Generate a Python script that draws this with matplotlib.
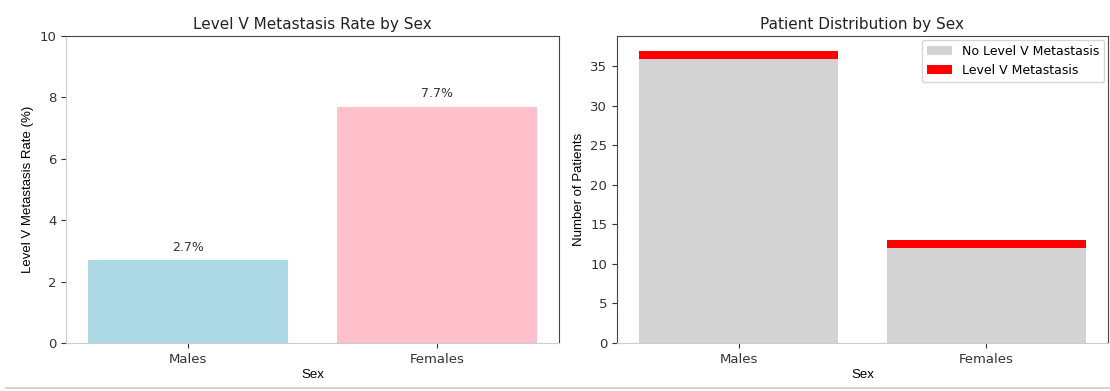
import matplotlib
matplotlib.use("Agg")
import matplotlib.pyplot as plt
from matplotlib.lines import Line2D

# Data
sexes = ["Males", "Females"]
no_meta = [36, 12]
meta = [1, 1]
rates = [2.7, 7.7]
rate_labels = ["2.7%", "7.7%"]
rate_colors = ["lightblue", "pink"]

plt.rcParams["font.family"] = ["DejaVu Sans"]

fig = plt.figure(figsize=(11.10, 3.91), dpi=100)
ax1 = fig.add_axes([66 / 1110, 48 / 391, 493 / 1110, 307 / 391])
ax2 = fig.add_axes([617 / 1110, 48 / 391, 491 / 1110, 307 / 391])

label_font = dict(family=["Liberation Sans Narrow", "Liberation Sans", "DejaVu Sans"], fontsize=9.5)

# Left: rate by sex
x = list(range(len(sexes)))
ax1.bar(x, rates, color=rate_colors, width=0.8)
for xi, r, lab in zip(x, rates, rate_labels):
    ax1.text(xi, r + 0.2, lab, ha="center", va="bottom", fontsize=9, color="#333333")
ax1.set_ylim(0, 10)
ax1.set_xticks(x)
ax1.set_xticklabels(sexes)
ax1.set_title("Level V Metastasis Rate by Sex", fontsize=11, pad=5, color="#222222")
ax1.set_xlabel("Sex", labelpad=2, **label_font)
ax1.set_ylabel("Level V Metastasis Rate (%)", **label_font)

# Right: stacked patient counts
ax2.bar(x, no_meta, color="lightgray", width=0.8, label="No Level V Metastasis")
ax2.bar(x, meta, bottom=no_meta, color="red", width=0.8, label="Level V Metastasis")
ax2.set_xticks(x)
ax2.set_xticklabels(sexes)
ax2.set_title("Patient Distribution by Sex", fontsize=11, pad=5, color="#222222")
ax2.set_xlabel("Sex", labelpad=2, **label_font)
ax2.set_ylabel("Number of Patients", **label_font)
ax2.legend(loc="upper right", fontsize=9, borderaxespad=0.3)

for ax in (ax1, ax2):
    ax.tick_params(labelsize=9.5, colors="#333333", length=3.5)
    ax.spines["bottom"].set_color("#cccccc")
    for s in ("top", "right"):
        ax.spines[s].set_color("#444444")
ax1.spines["left"].set_color("#cccccc")
ax2.spines["left"].set_color("#444444")

# thin separator along the bottom
fig.add_artist(Line2D([0.005, 1.0], [3 / 391, 3 / 391], color="#cccccc", lw=1.2,
                      transform=fig.transFigure))

fig.savefig("out.png", dpi=100)
